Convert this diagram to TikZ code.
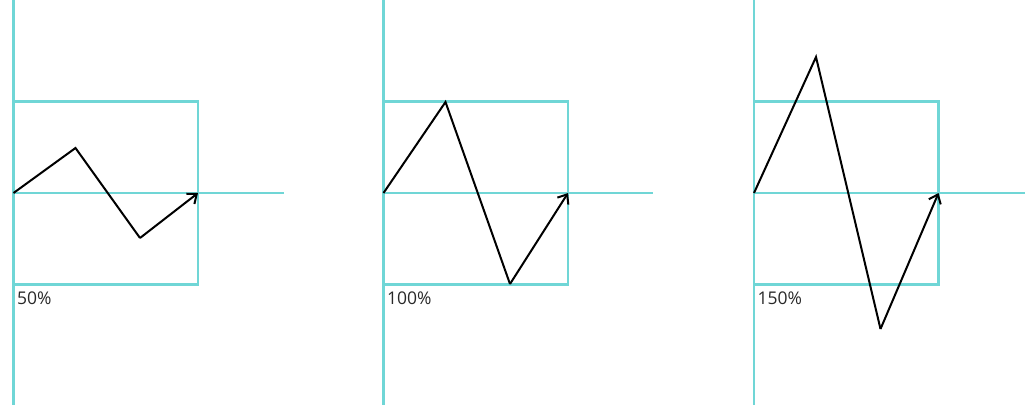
\documentclass[tikz,border=0pt]{standalone}
\usepackage{fontspec}
\setmainfont{Open Sans}
\usetikzlibrary{arrows.meta}
\definecolor{guidecyan}{RGB}{112,214,214}
\definecolor{labelgray}{RGB}{40,40,40}

\begin{document}
\begin{tikzpicture}[
    x=1pt,y=-1pt,
    guide/.style={guidecyan,line width=2.2pt},
    wave/.style={black,line width=2pt,line join=miter},
    tip/.style={-{Straight Barb[length=8pt,width=13pt,line width=2pt]}},
    pct/.style={font=\fontsize{17.5}{20}\selectfont,text=labelgray,anchor=base west,inner sep=0pt}
  ]
    \useasboundingbox (0,0) rectangle (1025,405);
    % one panel per amplitude: left edge / amplitude / end of the axis / label
    \foreach \ox/\amp/\axend/\lbl [count=\i] in {13.5/45/284/50\%,383.5/91/653/100\%,754/136/1025/150\%}{
      \draw[guide] (\ox,0) -- (\ox,405);
      \draw[guide] (\ox,101.5) rectangle ++(184.5,183);
      \draw[guide] (\ox,193) -- (\axend,193);
      \coordinate (start-\i) at (\ox,193);
      \coordinate (peak-\i) at (\ox+62,193-\amp);
      \coordinate (low-\i) at (\ox+126.5,193+\amp);
      \coordinate (end-\i) at (\ox+184.5,193);
      \draw[wave] (start-\i) -- (peak-\i) -- (low-\i);
      \draw[wave,tip] (low-\i) -- (end-\i);
      \node[pct] (lbl-\i) at (\ox+3.5,304) {\lbl};
    }
  \end{tikzpicture}
\end{document}
